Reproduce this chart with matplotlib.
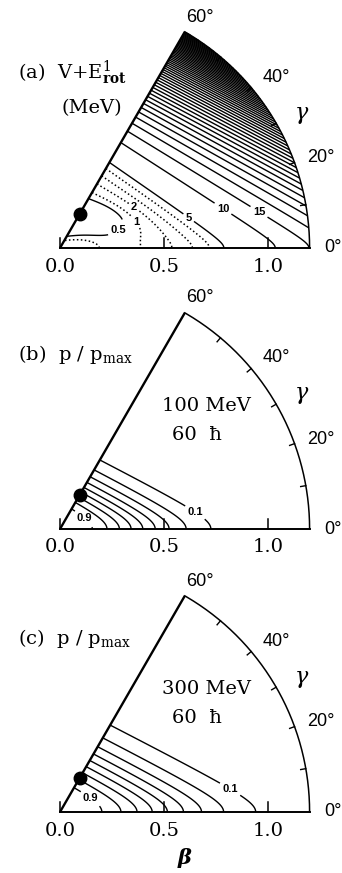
import numpy as np
import matplotlib.pyplot as plt

plt.rcParams['mathtext.fontset'] = 'dejavuserif'

W, H = 342, 873          # figure size in pixels
S = 208.0                # pixels per unit of beta
BMAX = 1.2
OX = 60                  # x pixel of beta = 0

# contour levels, panel (a) in MeV
levels_a_solid = [0.5] + list(range(5, 305, 5))
levels_a_dotted = [1, 2, 3, 4]
labels_a = {0.5: '0.5', 1: '1', 2: '2', 5: '5', 10: '10', 15: '15'}
# p/p_max levels, panels (b) and (c)
levels_p = [0.1, 0.2, 0.3, 0.4, 0.5, 0.6, 0.7, 0.8, 0.9]
labels_p = {0.1: '0.1', 0.9: '0.9'}

# equilibrium point (beta, gamma in deg)
beta_eq, gamma_eq = 0.19, 60.0

# surface (a): level L lies on  x + a(L)*|y| = c(L)
wa = 0.03
c0, kc, Lc = 0.263, 0.48, 2.5         # c(L) = c0 + kc*ln(1 + L/Lc)
a_inf, a_drop, La = 1.9, 0.6, 18.0    # a(L) = a_inf - a_drop*exp(-L/La)
# ridge along gamma = 0 near the origin
R0, rx, ry = 2.5, 0.2, 0.07
# pocket below the equilibrium point, stretched along e1
D, xc, yc, s1, s2 = 0.8, 0.28, 0.175, 0.2, 0.07
e1 = (0.9, -0.43)
e2 = (0.43, 0.9)

# p/p_max width for 100 MeV and 300 MeV
ap, wp = 1.96, 0.066
u1_b, u1_c = 0.478, 0.62


def soft_abs(y, w):
    return np.sqrt(y**2 + w**2) - w


def c_of(L):
    return c0 + kc * np.log1p(L / Lc)


def a_of(L):
    return a_inf - a_drop * np.exp(-L / La)


def energy(X, Y):
    s = soft_abs(Y, wa)
    lo = np.full(X.shape, -2.4)
    hi = np.full(X.shape, 3000.0)
    for _ in range(60):
        mid = 0.5 * (lo + hi)
        above = c_of(mid) - a_of(mid) * s - X > 0
        hi = np.where(above, mid, hi)
        lo = np.where(above, lo, mid)
    base = 0.5 * (lo + hi)
    ridge = R0 / (1 + (X / rx)**3) * np.exp(-(Y / ry)**2)
    dx, dy = X - xc, Y - yc
    r1 = dx * e1[0] + dy * e1[1]
    r2 = dx * e2[0] + dy * e2[1]
    pocket = D * np.exp(-(r1 / s1)**2 - (r2 / s2)**2)
    return base + ridge - pocket


def prob(X, Y, u1):
    u = X + ap * soft_abs(Y, wp)
    return np.exp(-(u / u1)**2)


beta = np.linspace(0, BMAX, 481)
gam = np.radians(np.linspace(0, 60, 361))
BB, GG = np.meshgrid(beta, gam)
XX = BB * np.cos(GG)
YY = BB * np.sin(GG)

fig = plt.figure(figsize=(W / 100, H / 100), dpi=100)


def make_panel(top, bottom, oy):
    ax = fig.add_axes([0, 1 - bottom / H, 1, (bottom - top) / H])
    ax.set_xlim(-OX / S, (W - OX) / S)
    ax.set_ylim((oy - bottom) / S, (oy - top) / S)
    ax.axis('off')
    return ax


def at(dx, dy):
    # pixel offset from the origin -> data coords
    return dx / S, -dy / S


def frame(ax):
    t = np.radians(np.linspace(0, 60, 300))
    ax.plot(BMAX * np.cos(t), BMAX * np.sin(t), 'k', lw=1.1)
    ax.plot([0, BMAX], [0, 0], 'k', lw=1.4)
    c60, s60 = np.cos(np.pi / 3), np.sin(np.pi / 3)
    ax.plot([0, BMAX * c60], [0, BMAX * s60], 'k', lw=1.7, solid_capstyle='butt')
    for b in [0.0, 0.5, 1.0]:
        ax.plot([b, b], [0, 0.046], 'k', lw=1.1)
    for g in np.radians([10, 20, 30, 40, 50]):
        ax.plot([BMAX * np.cos(g), (BMAX - 0.025) * np.cos(g)],
                [BMAX * np.sin(g), (BMAX - 0.025) * np.sin(g)], 'k', lw=1.0)
    for b, txt in [(0.0, '0.0'), (0.5, '0.5'), (1.0, '1.0')]:
        ax.text(b, -18.5 / S, txt, ha='center', va='center',
                fontsize=14, family='DejaVu Serif')
    for (dx, dy), txt in [((140, -231), '60°'), ((216, -171), '40°'),
                          ((261, -90), '20°')]:
        ax.text(*at(dx, dy), txt, ha='center', va='center', fontsize=13,
                family='Liberation Sans')
    ax.text(*at(264, 0), '0°', ha='left', va='center', fontsize=13,
            family='Liberation Sans')
    ax.text(*at(242, -133), r'$\gamma$', ha='center', va='center', fontsize=16)
    bx = beta_eq * np.cos(np.radians(gamma_eq))
    by = beta_eq * np.sin(np.radians(gamma_eq))
    ax.plot(bx, by, 'o', color='k', ms=9, zorder=5)


def contour_set(ax, Z, levels, labelled, pos, fmt, **style):
    # unlabelled lines and labelled lines are drawn as separate sets
    plain = [v for v in levels if v not in labelled]
    if plain:
        ax.contour(XX, YY, Z, levels=plain, colors='k', **style)
    cl = ax.contour(XX, YY, Z, levels=labelled, colors='k', **style)
    txt = ax.clabel(cl, fmt=fmt, manual=pos, inline=True,
                    inline_spacing=3, fontsize=8)
    for t in txt:
        t.set_rotation(0)
        t.set_fontweight('bold')
        t.set_family('Liberation Sans')


# (a) V + E_rot
ax = make_panel(0, 285, 248)
E = energy(XX, YY)
contour_set(ax, E, levels_a_solid, [0.5, 5, 10, 15],
            [at(64, -12), at(132, -35), at(164, -41), at(202, -41)],
            labels_a, linewidths=1.0)
contour_set(ax, E, levels_a_dotted, [1, 2],
            [at(77, -26), at(75, -42)], labels_a,
            linewidths=1.1, linestyles=[(0, (1, 1.6))])
frame(ax)
ax.text(*at(-42, -175), r'(a)  V+E$^{1}_{\mathbf{rot}}$', ha='left', va='center',
        fontsize=14, family='DejaVu Serif')
ax.text(*at(32, -140), '(MeV)', ha='center', va='center',
        fontsize=14, family='DejaVu Serif')

# (b), (c) p/p_max at 100 MeV and 300 MeV
for (top, bottom, oy), u1, tag, energy_txt in [
        ((285, 570, 529), u1_b, '(b)', '100 MeV'),
        ((570, 873, 812), u1_c, '(c)', '300 MeV')]:
    ax = make_panel(top, bottom, oy)
    P = prob(XX, YY, u1)
    if tag == '(b)':
        pos = [at(138, -21), at(23, -9)]
    else:
        pos = [at(172, -26), at(28, -10)]
    contour_set(ax, P, levels_p, [0.1, 0.9], pos, labels_p, linewidths=1.0)
    frame(ax)
    ax.text(*at(-42, -174), tag + r'  p / p$_{\rm max}$', ha='left', va='center',
            fontsize=14, family='DejaVu Serif')
    ax.text(*at(146, -123), energy_txt, ha='center', va='center',
            fontsize=14, family='DejaVu Serif')
    ax.text(*at(137, -94), '60  ħ', ha='center', va='center',
            fontsize=14, family='DejaVu Serif')

ax.text(*at(125, 46), r'$\boldsymbol{\beta}$', ha='center', va='center', fontsize=15)

fig.savefig('out.png', dpi=100)
